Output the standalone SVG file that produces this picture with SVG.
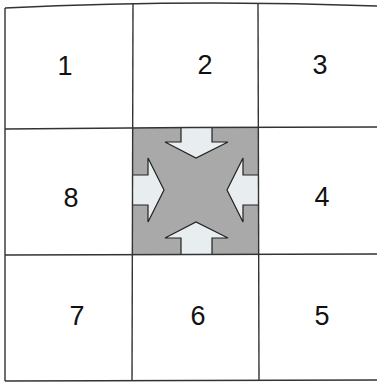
<svg xmlns="http://www.w3.org/2000/svg" width="377" height="383" viewBox="0 0 377 383">
<style>
.ln{fill:none;stroke:#333333;stroke-width:1.4}
.lb{font-family:"Liberation Sans",Arial,sans-serif;font-size:27px;fill:#111111;text-anchor:middle}
.ar{fill:#e8edef;stroke:#222222;stroke-width:1.2;stroke-linejoin:miter}
</style>
<rect width="377" height="383" fill="#ffffff"/>
<g id="center">
<rect x="133" y="128" width="125" height="126" fill="#a9a9a9"/>
</g>
<g id="arrows">
<path class="ar" d="M181,128 L181,142 L165,142 L196,158 L228,142 L212,142 L212,128"/>
<path class="ar" d="M181,254 L181,238 L165,238 L196,222 L228,238 L212,238 L212,254"/>
<path class="ar" d="M133,175 L148,175 L148,158 L164,190 L148,222 L148,205 L133,205"/>
<path class="ar" d="M258,175 L243,175 L243,158 L227,190 L243,222 L243,205 L258,205"/>
</g>
<g id="grid">
<path class="ln" d="M5,8 Q190,-1 377,6"/>
<path class="ln" d="M5,129 Q190,127 377,127"/>
<path class="ln" d="M5,255 L377,254"/>
<path class="ln" d="M5,381 L377,380"/>
<path class="ln" d="M5,8 L5,381"/>
<path class="ln" d="M133,4 L132,381"/>
<path class="ln" d="M258,4 L259,381"/>
</g>
<g id="n1"><text class="lb" x="65" y="75">1</text></g>
<g id="n2"><text class="lb" x="205" y="74">2</text></g>
<g id="n3"><text class="lb" x="320" y="74">3</text></g>
<g id="n8"><text class="lb" x="71" y="207">8</text></g>
<g id="n4"><text class="lb" x="322" y="206">4</text></g>
<g id="n7"><text class="lb" x="77" y="325">7</text></g>
<g id="n6"><text class="lb" x="198" y="325">6</text></g>
<g id="n5"><text class="lb" x="322" y="325">5</text></g>
</svg>
